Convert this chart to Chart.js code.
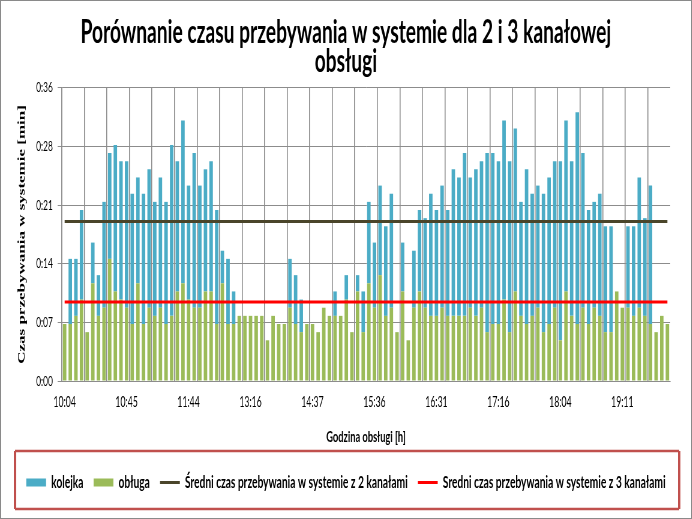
<!DOCTYPE html>
<html>
<head>
<meta charset="utf-8">
<script src="https://cdn.jsdelivr.net/npm/chart.js@4"></script>
<style>
html, body { margin: 0; padding: 0; overflow: hidden; background: #fff; }
#wrap { position: relative; width: 692px; height: 519px; overflow: hidden; }
/* obraz wzorcowy jest sciśnięty w poziomie, wiec rysujemy szerzej i skalujemy */
#myChart { position: absolute; left: 0; top: 0; transform: scaleX(0.6); transform-origin: 0 0; }
#frame { position: absolute; left: 0; top: 0; width: 692px; height: 519px; box-sizing: border-box; border: 1px solid #8a8a8a; pointer-events: none; }
</style>
</head>
<body>
<div id="wrap">
<canvas id="myChart" width="1153" height="519"></canvas>
<div id="frame"></div>
</div>
<script>
// czas obslugi [min] dla kolejnych klientow
obsluga = [
    7, 7, 8, 10, 6, 12, 8, 9, 15, 11,
    10, 9, 7, 12, 7, 9, 8, 9, 7, 8,
    11, 12, 10, 9, 9, 11, 11, 7, 12, 7,
    7, 8, 8, 8, 8, 8, 5, 8, 7, 7,
    9, 7, 6, 7, 7, 6, 9, 8, 8, 8,
    10, 6, 11, 6, 12, 9, 13, 8, 9, 6,
    11, 5, 9, 11, 9, 8, 8, 9, 8, 8,
    8, 8, 9, 8, 9, 6, 7, 7, 10, 6,
    11, 8, 7, 8, 9, 6, 7, 9, 5, 11,
    8, 7, 9, 7, 9, 8, 6, 6, 11, 9,
    9, 8, 9, 8, 7, 6, 8, 7
]

// czas oczekiwania w kolejce [min]
kolejka = [
    0, 8, 7, 11, 0, 5, 5, 13, 13, 18,
    17, 18, 16, 13, 16, 17, 14, 16, 15, 21,
    16, 20, 14, 19, 15, 15, 16, 14, 4, 8,
    4, 0, 0, 0, 0, 0, 0, 0, 0, 0,
    6, 6, 4, 0, 0, 0, 0, 0, 3, 0,
    3, 0, 2, 5, 10, 8, 11, 11, 14, 0,
    6, 0, 7, 10, 11, 15, 13, 15, 13, 18,
    17, 20, 16, 18, 18, 22, 21, 20, 22, 21,
    20, 14, 19, 15, 15, 17, 18, 18, 22, 21,
    19, 26, 19, 14, 13, 15, 13, 13, 0, 0,
    10, 11, 16, 12, 17, 0, 0, 0
]

// godziny widoczne na osi (co 11 klient)
godziny = ["10:04", "10:45", "11:44", "13:16", "14:37", "15:36", "16:31", "17:16", "18:04", "19:11"]
coIle = 11

sredni2 = 19.6
sredni3 = 9.7

klienci = obsluga.map((v, i) => i)

const ramkaLegendy = {
    id: 'ramkaLegendy',
    afterDraw(chart) {
        const lg = chart.legend
        const c = chart.ctx
        const l = 25, r = chart.width - 21, t = lg.top - 6, b = lg.bottom + 8
        c.save()
        c.strokeStyle = '#c0504d'
        c.lineWidth = 2.5
        c.beginPath()
        c.moveTo(l, t); c.lineTo(r, t)
        c.moveTo(l, b); c.lineTo(r, b)
        c.stroke()
        c.lineWidth = 4
        c.beginPath()
        c.moveTo(l, t); c.lineTo(l, b)
        c.moveTo(r, t); c.lineTo(r, b)
        c.stroke()
        c.restore()
    }
}

Chart.defaults.font.family = 'Lato'
Chart.defaults.color = '#000'

const ctx = document.getElementById('myChart')
new Chart(ctx, {
    type: 'bar',
    data: {
        labels: klienci,
        datasets: [
            {
                label: 'kolejka',
                data: kolejka,
                backgroundColor: '#4bacc6',
                stack: 'czas',
                order: 2,
                pointStyle: 'rect',
                barPercentage: 0.62,
                categoryPercentage: 1
            },
            {
                label: 'obługa',
                data: obsluga,
                backgroundColor: '#9bbb59',
                stack: 'czas',
                order: 1,
                pointStyle: 'rect',
                barPercentage: 0.62,
                categoryPercentage: 1
            },
            {
                type: 'line',
                label: 'Średni czas przebywania w systemie z 2 kanałami',
                data: klienci.map(() => sredni2),
                borderColor: '#4a452a',
                borderWidth: 3,
                pointRadius: 0,
                pointBorderWidth: 3,
                pointStyle: 'line',
                stack: 'dwa',
                order: 0
            },
            {
                type: 'line',
                label: 'Sredni czas przebywania w systemie z 3 kanałami',
                data: klienci.map(() => sredni3),
                borderColor: '#ff0000',
                borderWidth: 3,
                pointRadius: 0,
                pointBorderWidth: 3,
                pointStyle: 'line',
                stack: 'trzy',
                order: 0
            }
        ]
    },
    options: {
        responsive: false,
        animation: false,
        layout: {
            padding: { top: 0, left: 0, right: 0, bottom: 18 }
        },
        scales: {
            x: {
                stacked: true,
                grid: {
                    offset: true,
                    drawTicks: false,
                    lineWidth: 1.6,
                    color: (c) => c.index % 4 === 0 ? '#8c8c8c' : 'rgba(0,0,0,0)'
                },
                border: { color: '#8c8c8c', width: 1 },
                ticks: {
                    autoSkip: false,
                    maxRotation: 0,
                    minRotation: 0,
                    padding: 13,
                    font: { size: 14.5 },
                    callback: (v, i) => i % coIle === 0 ? godziny[i / coIle] : ''
                },
                title: {
                    display: true,
                    text: 'Godzina obsługi [h]',
                    font: { size: 15.5, weight: 'bold' },
                    padding: { top: 3, bottom: 11 }
                }
            },
            y: {
                stacked: true,
                min: 0,
                max: 36,
                afterFit: (s) => { s.width = 103 },
                grid: { color: '#8c8c8c', lineWidth: 1, tickLength: 7 },
                border: { color: '#8c8c8c', width: 1.6 },
                ticks: {
                    stepSize: 7.2,
                    padding: 8,
                    font: { size: 14 },
                    callback: (v) => '0:' + String(Math.floor(v + 1e-6)).padStart(2, '0')
                },
                title: {
                    display: true,
                    text: 'Czas przebywania w systemie [min]',
                    font: { family: 'Liberation Serif', size: 17, weight: 'bold' },
                    padding: { top: 26, bottom: 0 }
                }
            },
            yPrawa: {
                position: 'right',
                display: true,
                grid: { display: false },
                border: { display: false },
                ticks: { display: false },
                afterFit: (s) => { s.width = 36 }
            }
        },
        plugins: {
            title: {
                display: true,
                text: ['Porównanie czasu przebywania w systemie dla 2 i 3 kanałowej', 'obsługi'],
                font: { size: 32, weight: 'bold', lineHeight: 0.92 },
                padding: { top: 18, bottom: 11 }
            },
            legend: {
                position: 'bottom',
                labels: {
                    usePointStyle: true,
                    pointStyleWidth: 33,
                    boxHeight: 8,
                    padding: 17,
                    font: { size: 17, weight: 'bold' },
                    sort: (a, b) => a.datasetIndex - b.datasetIndex
                }
            },
            tooltip: { enabled: false }
        }
    },
    plugins: [ramkaLegendy]
})
</script>
</body>
</html>
